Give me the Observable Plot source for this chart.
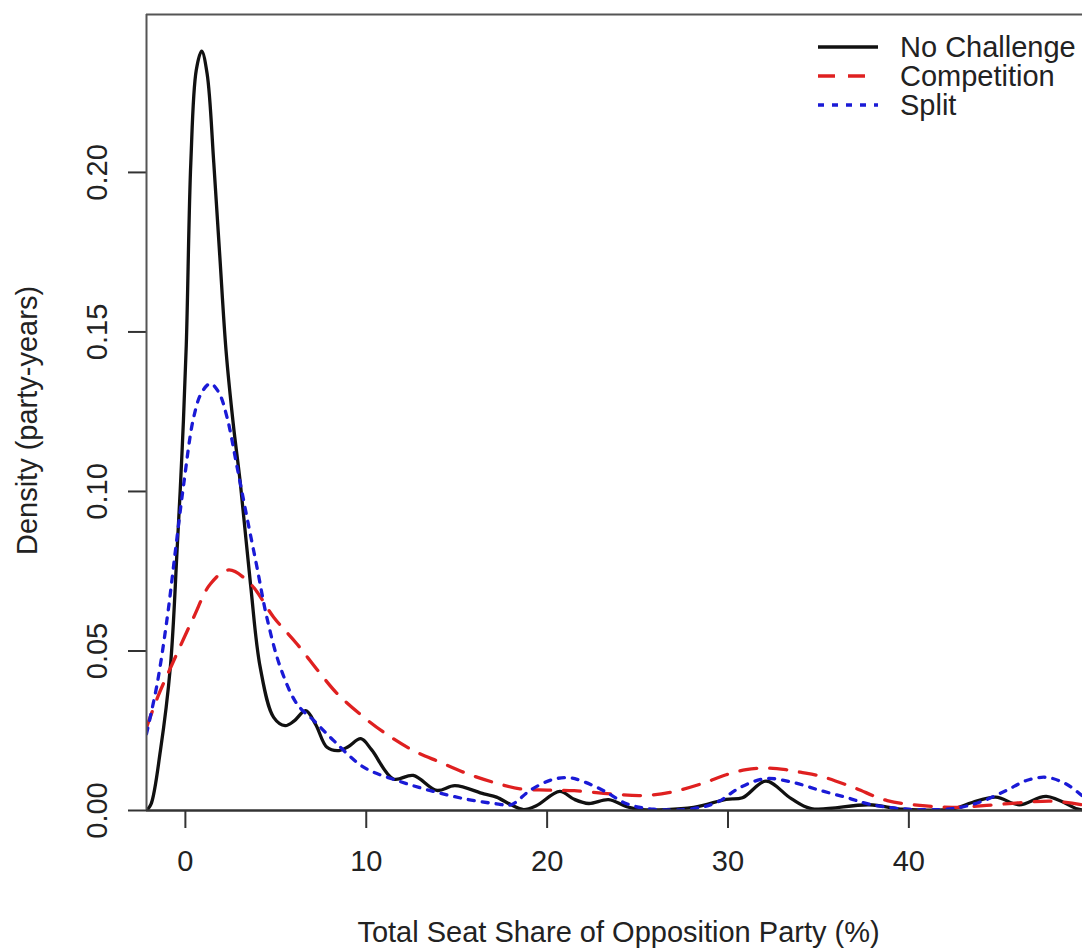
<!DOCTYPE html>
<html><head><meta charset="utf-8">
<script src="https://cdn.jsdelivr.net/npm/d3@7"></script>
<script src="https://cdn.jsdelivr.net/npm/@observablehq/plot@0.6"></script>
<style>
html,body{margin:0;padding:0;background:#fff;}
#wrap{position:relative;width:1082px;height:949px;overflow:hidden;font-family:"Liberation Sans",Arial,Helvetica,sans-serif;}
#wrap svg{display:block;}
#legend{position:absolute;left:0;top:0;pointer-events:none;}
</style></head><body><div id="wrap"></div>
<script>
// ---- data ----
const xTicks = [0, 10, 20, 30, 40];
const yTicks = [0, 0.05, 0.10, 0.15, 0.20];
const xDomain = [-2.15, 49.6];
const yDomain = [0, 0.2495];
const seriesNames = ["No Challenge", "Competition", "Split"];
const seriesColors = ["#111111", "#df2020", "#1a1ad6"];
const seriesDash = [null, "17,13", "6,8"];
const xTitle = "Total Seat Share of Opposition Party (%)";
const yTitle = "Density (party-years)";

const noChallengeX = [-2.15,-1.9,-1.38,-0.83,-0.46,-0.18,0.05,0.3,0.6,0.9,1.2,1.57,1.9,2.25,2.65,3.04,3.6,4.14,4.88,5.52,6.0,6.65,7.2,7.83,8.5,9.0,9.7,10.3,11.5,12.6,13.9,14.9,16.5,17.2,18.0,18.7,19.4,20.7,21.5,22.3,23.4,24.4,25.2,28.1,29.9,30.8,32.1,33.5,34.6,37.8,39.7,42.4,43.5,44.8,46.1,47.6,49.3,49.6];
const noChallengeY = [0,0.002,0.0188,0.045,0.0815,0.113,0.146,0.203,0.232,0.238,0.231,0.203,0.174,0.144,0.121,0.1025,0.071,0.0448,0.0292,0.0266,0.028,0.0313,0.027,0.0198,0.0188,0.02,0.0225,0.019,0.0099,0.011,0.0063,0.0078,0.0052,0.0042,0.0018,0.0003,0.0015,0.006,0.0035,0.0022,0.0034,0.0012,0.0003,0.001,0.0035,0.004,0.0092,0.0037,0.0006,0.0018,0.0004,0.0005,0.0025,0.0042,0.0018,0.0044,0.0005,0.0002];

const competitionX = [-2.15,-1.5,-0.64,0.46,1.38,2.4,3.6,4.88,6.17,7.46,8.4,9.85,11.1,12.6,14.1,15.6,17.0,18.5,20.0,21.5,23.5,25.3,26.8,28.5,29.9,31.0,32.1,33.2,34.0,35.1,36.9,38.8,40.6,42.4,44.3,46.5,48.0,49.6];
const competitionY = [0.026,0.036,0.047,0.0606,0.071,0.0754,0.071,0.0606,0.0522,0.0429,0.0366,0.0293,0.024,0.0188,0.0151,0.0115,0.0089,0.0068,0.0064,0.0062,0.0052,0.0047,0.0057,0.0083,0.0112,0.0128,0.0133,0.0128,0.012,0.0108,0.0073,0.0031,0.0016,0.001,0.0016,0.0026,0.0029,0.0018];

const splitX = [-2.15,-1.56,-1.0,-0.55,-0.09,0.46,0.9,1.38,1.85,2.3,2.86,3.4,3.96,4.5,5.25,6.17,7.1,8.2,9.85,11.7,13.5,15.4,17.2,18.0,19.1,20.3,21.2,21.8,23.1,24.4,25.9,28.1,29.4,30.7,32.1,33.6,35.1,36.6,37.8,39.7,42.4,43.9,45.4,46.5,47.6,48.7,49.6];
const splitY = [0.024,0.0397,0.0606,0.0815,0.1024,0.1233,0.131,0.1338,0.131,0.1233,0.1076,0.092,0.0762,0.0606,0.0449,0.0334,0.0282,0.0219,0.0136,0.0094,0.0063,0.0037,0.0021,0.0018,0.0065,0.0097,0.0103,0.0095,0.0063,0.0021,0.0004,0.0006,0.0026,0.0073,0.0100,0.0088,0.0063,0.004,0.002,0.0005,0.0006,0.0026,0.0063,0.0094,0.0104,0.0083,0.0045];

// ---- build ----
const seriesX = [noChallengeX, competitionX, splitX];
const seriesY = [noChallengeY, competitionY, splitY];
const rows = seriesNames.map((name, i) => seriesX[i].map((x, j) => ({series: name, x, y: seriesY[i][j]})));

const font = '"Liberation Sans", Arial, Helvetica, sans-serif';
const fs = 29;
const chart = Plot.plot({
  width: 1082, height: 949,
  marginLeft: 146, marginRight: 0, marginTop: 14, marginBottom: 139,
  style: {fontFamily: font, fontSize: fs + "px", color: "#222", background: "#fff", overflow: "visible"},
  x: {domain: xDomain},
  y: {domain: yDomain},
  marks: [
    Plot.axisX({ticks: xTicks, tickSize: 18, tickPadding: 22, tickFormat: d => String(d), label: null, stroke: "#333", strokeWidth: 2, fill: "#222", fontSize: fs}),
    Plot.axisY({ticks: yTicks, tickSize: 18, tickFormat: () => "", label: null, stroke: "#333", strokeWidth: 2}),
    Plot.text(yTicks, {y: d => d, frameAnchor: "left", text: d => d.toFixed(2), rotate: -90, dx: -49, textAnchor: "middle", lineAnchor: "middle", fontSize: fs, fill: "#222"}),
    Plot.text([yTitle], {frameAnchor: "left", text: d => d, rotate: -90, dx: -119, dy: 8, textAnchor: "middle", lineAnchor: "middle", fontSize: fs, fill: "#222"}),
    Plot.text([xTitle], {frameAnchor: "bottom", text: d => d, dx: 4, dy: 122, textAnchor: "middle", lineAnchor: "middle", fontSize: fs, fill: "#222"}),
    ...rows.map((r, i) => Plot.line(r, {x: "x", y: "y", stroke: seriesColors[i], strokeWidth: 3.3, strokeDasharray: seriesDash[i], curve: "catmull-rom", clip: true})),
    Plot.ruleX([xDomain[0]], {stroke: "#555", strokeWidth: 2}),
    Plot.ruleY([yDomain[1]], {stroke: "#555", strokeWidth: 2}),
    Plot.ruleY([yDomain[0]], {stroke: "#333", strokeWidth: 2.5})
  ]
});
const wrap = document.getElementById("wrap");
wrap.appendChild(chart);

// ---- legend overlay ----
const leg = d3.select(wrap).append("svg").attr("id", "legend").attr("width", 1082).attr("height", 949);
seriesNames.forEach((name, i) => {
  const cy = 47 + i * 29;
  leg.append("line").attr("x1", 818).attr("x2", 878).attr("y1", cy).attr("y2", cy)
    .attr("stroke", seriesColors[i]).attr("stroke-width", 3.3)
    .attr("stroke-dasharray", seriesDash[i]);
  leg.append("text").attr("x", 900).attr("y", cy + 10).attr("font-family", font)
    .attr("font-size", fs).attr("fill", "#222").text(name);
});
</script></body></html>
